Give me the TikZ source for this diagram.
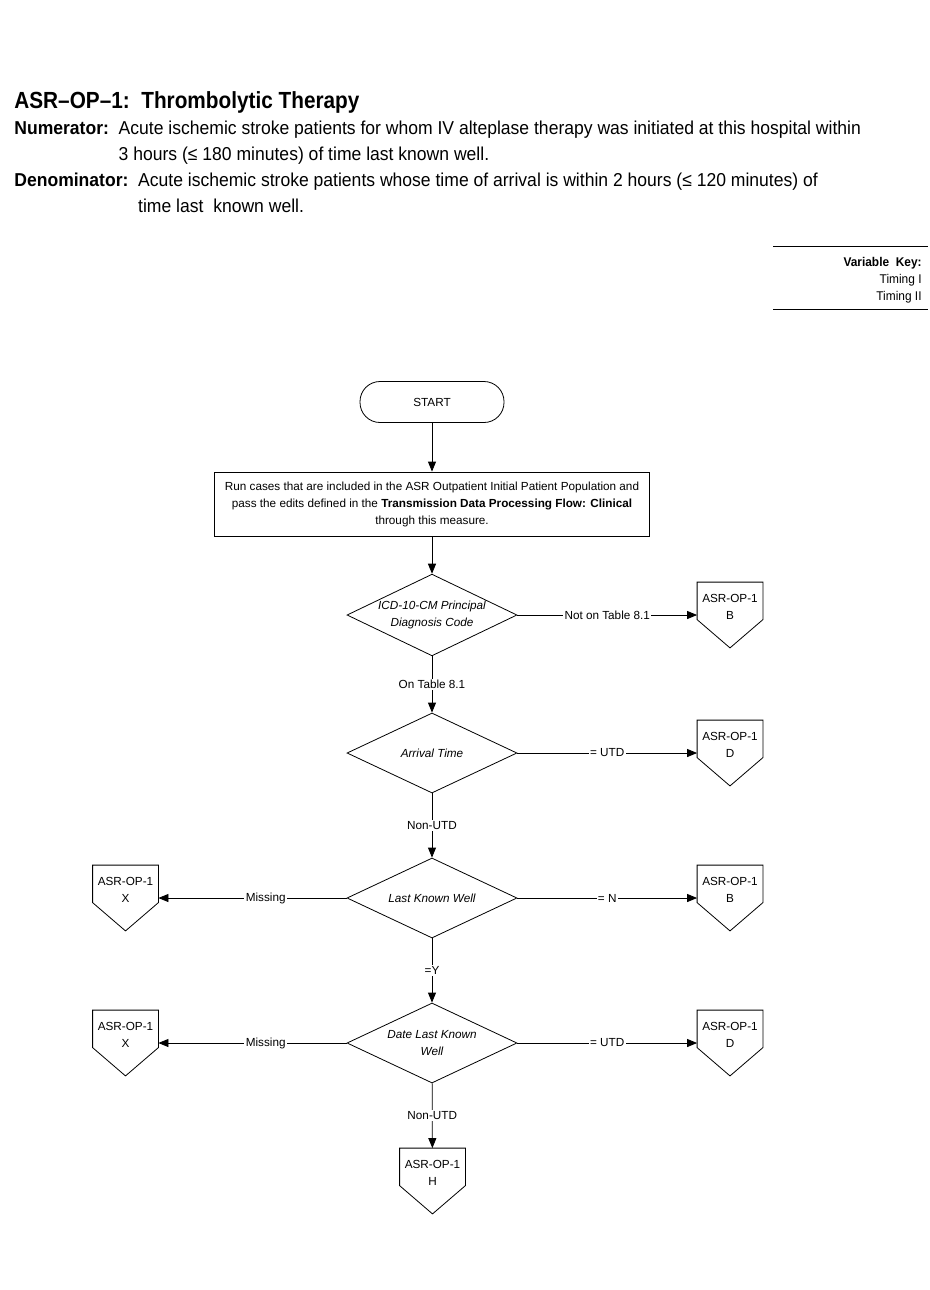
\documentclass[tikz,border=0pt]{standalone}
\usepackage{fontspec}
\setmainfont{Liberation Sans}
\newfontfamily\narrowfont[FakeStretch=0.94]{Liberation Sans}
\newfontfamily\titlefont[FakeStretch=0.89]{Liberation Sans}
\usetikzlibrary{shapes.geometric,arrows.meta,calc}
\begin{document}
\begin{tikzpicture}[x=0.75pt,y=-0.75pt,line width=0.6pt,
		font=\fontsize{8.8}{12.75}\selectfont,
		>={Triangle[length=7.5pt,width=6pt]}]
	\tikzstyle{terminal}=[rectangle,draw,rounded corners=15pt,minimum width=108pt,minimum height=30.75pt]
	\tikzstyle{process}=[rectangle,draw,minimum width=326.25pt,minimum height=48pt,align=center,inner sep=0pt]
	\tikzstyle{decision}=[diamond,draw,aspect=2,minimum width=127.5pt,minimum height=60pt,inner sep=0pt,align=center,font=\fontsize{8.8}{12.75}\selectfont\itshape]
	\tikzstyle{offpage}=[rectangle,minimum width=48.75pt,minimum height=48.75pt,inner sep=0pt,align=center,
		append after command={\pgfextra{\draw (\tikzlastnode.north west) -- (\tikzlastnode.north east)
			-- ($(\tikzlastnode.north east)!0.57!(\tikzlastnode.south east)$) -- (\tikzlastnode.south)
			-- ($(\tikzlastnode.north west)!0.57!(\tikzlastnode.south west)$) -- cycle;}}]
	\tikzstyle{flow}=[->]
	\tikzstyle{lbl}=[fill=white,inner sep=1pt]

	\useasboundingbox (0,0) rectangle (930,1290);

	% Cabecera
	\node[anchor=base west,inner sep=0pt,font=\titlefont\bfseries\fontsize{17.5}{21}\selectfont] (title) at (14,108) {ASR–OP–1:\ \ Thrombolytic Therapy};
	\node[anchor=base west,inner sep=0pt,font=\narrowfont\fontsize{14}{19.5}\selectfont] (num) at (14,134)
		{\begin{tabular}[t]{@{}l@{\ \ }l@{}}
			\textbf{Numerator:} & Acute ischemic stroke patients for whom IV alteplase therapy was initiated at this hospital within\\
			& 3 hours (≤ 180 minutes) of time last known well.
		\end{tabular}};
	\node[anchor=base west,inner sep=0pt,font=\narrowfont\fontsize{14}{19.5}\selectfont] (den) at (14,186)
		{\begin{tabular}[t]{@{}l@{\ \ }l@{}}
			\textbf{Denominator:} & Acute ischemic stroke patients whose time of arrival is within 2 hours (≤ 120 minutes) of\\
			& time last\ \ known well.
		\end{tabular}};

	% Clave de variables
	\draw (773,246) -- (928,246);
	\draw (773,309) -- (928,309);
	\node[anchor=north east,inner sep=0pt,align=right,font=\narrowfont\fontsize{9.5}{12.75}\selectfont] (key) at (922,257)
		{\textbf{Variable\ \ Key:}\\Timing I\\Timing II};

	% Diagrama
	\node[terminal] (start) at (432,402) {START};
	\node[process] (run) at (432,504) {Run cases that are included in the ASR Outpatient Initial Patient Population and\\
		pass the edits defined in the \textbf{Transmission Data Processing Flow: Clinical}\\through this measure.};
	\node[decision] (icd) at (432,615) {ICD-10-CM Principal\\Diagnosis Code};
	\node[decision] (arr) at (432,753) {Arrival Time};
	\node[decision] (lkw) at (432,898) {Last Known Well};
	\node[decision] (dlkw) at (432,1043) {Date Last Known\\Well};

	% Conectores de salida
	\foreach \name / \x / \y / \lab in {B-1/730/615/B, D-1/730/753/D, X-1/125.5/898/X, B-2/730/898/B,
		X-2/125.5/1043/X, D-2/730/1043/D, H-1/432.5/1181/H}
	\node[offpage] (\name) at (\x,\y) {ASR-OP-1\\\lab\\\mbox{}};

	% Flechas
	\draw[flow] (start) -- (run);
	\draw[flow] (run) -- (icd);
	\path (icd) edge[flow] node[lbl] {Not on Table 8.1} (B-1);
	\path (icd) edge[flow] node[lbl] {On Table 8.1} (arr);
	\path (arr) edge[flow] node[lbl] {= UTD} (D-1);
	\path (arr) edge[flow] node[lbl] {Non-UTD} (lkw);
	\path (lkw) edge[flow] node[lbl,pos=0.43] {Missing} (X-1);
	\path (lkw) edge[flow] node[lbl] {= N} (B-2);
	\path (lkw) edge[flow] node[lbl] {=Y} (dlkw);
	\path (dlkw) edge[flow] node[lbl,pos=0.43] {Missing} (X-2);
	\path (dlkw) edge[flow] node[lbl] {= UTD} (D-2);
	\path (dlkw) edge[flow] node[lbl] {Non-UTD} (H-1);
\end{tikzpicture}
\end{document}
